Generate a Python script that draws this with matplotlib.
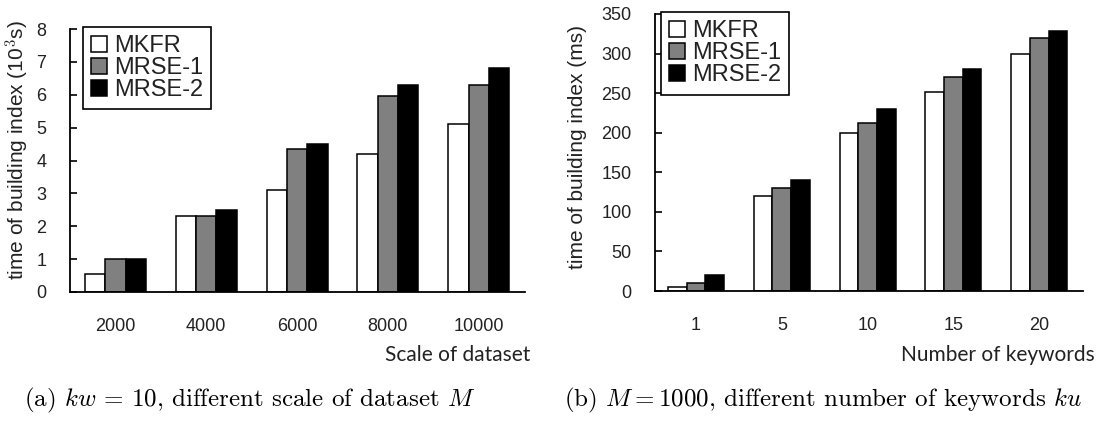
import matplotlib.pyplot as plt
import numpy as np

# data
series = ['MKFR', 'MRSE-1', 'MRSE-2']
colors = ['white', '#808080', 'black']

scale_labels = ['2000', '4000', '6000', '8000', '10000']
scale_mkfr = [0.55, 2.3, 3.1, 4.2, 5.1]
scale_mrse1 = [1.0, 2.3, 4.35, 5.95, 6.3]
scale_mrse2 = [1.0, 2.5, 4.5, 6.3, 6.8]

kw_labels = ['1', '5', '10', '15', '20']
kw_mkfr = [5, 120, 200, 252, 300]
kw_mrse1 = [10, 130, 212, 270, 320]
kw_mrse2 = [20, 140, 230, 280, 328]

W, H = 1102, 421
plt.rcParams['font.family'] = ['Liberation Sans', 'DejaVu Sans']
plt.rcParams['mathtext.fontset'] = 'cm'

fig = plt.figure(figsize=(W / 100, H / 100), dpi=100)


def px_axes(l, r, b, t):
    return fig.add_axes([l / W, 1 - b / H, (r - l) / W, (b - t) / H])


def draw_panel(ax, labels, values, ymax, ystep, bw, xlim, ylabel, xlabel,
               leg_anchor, ylab_xy, xlab_xy):
    x = np.arange(len(labels))
    for i, (vals, name, c) in enumerate(zip(values, series, colors)):
        ax.bar(x + (i - 1) * bw, vals, bw, color=c, edgecolor='black',
               linewidth=1.1, label=name)
    ax.set_xlim(*xlim)
    ax.set_ylim(0, ymax)
    ax.set_yticks(np.arange(0, ymax + ystep / 2, ystep))
    ax.set_xticks(x)
    ax.set_xticklabels(labels)
    for s in ['top', 'right']:
        ax.spines[s].set_visible(False)
    for s in ['left', 'bottom']:
        ax.spines[s].set_linewidth(1.3)
    ax.tick_params(axis='y', direction='in', length=5, width=1.2, pad=17,
                   labelsize=13, labelcolor='#222222')
    ax.tick_params(axis='x', length=0, pad=19, labelsize=13,
                   labelcolor='#222222')
    ax.set_ylabel(ylabel, fontsize=15, color='#222222')
    ax.yaxis.set_label_coords(*ylab_xy)
    ax.set_xlabel(xlabel, fontsize=15, color='#222222', loc='right',
                  family='Lato')
    ax.xaxis.set_label_coords(*xlab_xy)
    leg = ax.legend(loc='upper left', bbox_to_anchor=leg_anchor,
                    borderaxespad=0, fancybox=False, framealpha=1,
                    edgecolor='black', fontsize=17, handlelength=0.65,
                    handleheight=0.65, handletextpad=0.3, labelspacing=0.0,
                    borderpad=0.35)
    leg.get_frame().set_linewidth(1.2)
    for t in leg.get_texts():
        t.set_color('#222222')


ax1 = px_axes(70, 525, 292, 29)
draw_panel(ax1, scale_labels, [scale_mkfr, scale_mrse1, scale_mrse2],
           8, 1, 0.224, (-0.5, 4.51),
           r'time of building index (10$^{3}$s)', 'Scale of dataset',
           (0.029, 1.008), (-0.084, 0.54), (1.011, -0.20))

ax2 = px_axes(655, 1083, 291, 14)
draw_panel(ax2, kw_labels, [kw_mkfr, kw_mrse1, kw_mrse2],
           350, 50, 0.218, (-0.478, 4.51),
           'time of building index (ms)', 'Number of keywords',
           (0.014, 1.007), (-0.159, 0.52), (1.028, -0.195))

fig.text(250 / W, 1 - 400 / H, r'(a) $kw$ = 10, different scale of dataset $M$',
         ha='center', va='center', fontsize=18, family='cmr10')
fig.text(564 / W, 1 - 400 / H,
         r'(b) $M{=}1000$, different number of keywords $ku$',
         ha='left', va='center', fontsize=18, family='cmr10')

fig.savefig('out.png', dpi=100)
